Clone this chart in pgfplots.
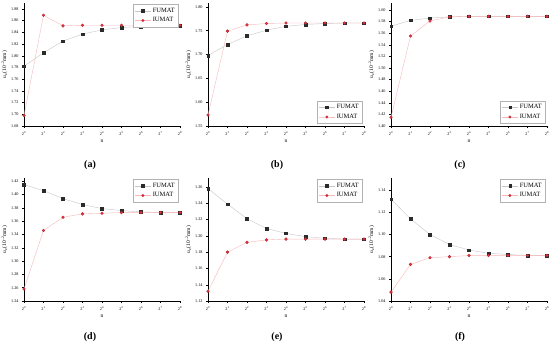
\documentclass[border=0pt]{standalone}
\usepackage{fontspec}
\setmainfont{Liberation Serif}
\usepackage{pgfplots}
\pgfplotsset{compat=1.18}
\definecolor{fblk}{HTML}{2B2B2B}
\definecolor{ired}{HTML}{E8323C}
\pgfplotsset{
  panel/.style={
    scale only axis, width=156pt, height=123pt, anchor=north west,
    axis lines=left, axis line style={-, line width=0.5pt, black},
    xmin=0, xmax=8, xtick={0,...,8},
    xticklabels={2\textsuperscript{0},2\textsuperscript{1},2\textsuperscript{2},2\textsuperscript{3},2\textsuperscript{4},2\textsuperscript{5},2\textsuperscript{6},2\textsuperscript{7},2\textsuperscript{8}},
    tick label style={font=\fontsize{4.2}{4.5}\selectfont},
    /pgf/number format/assume math mode=true,
    yticklabel style={/pgf/number format/fixed, /pgf/number format/fixed zerofill, /pgf/number format/precision=2},
    tick align=outside, major tick length=2pt, tick style={line width=0.4pt, black},
    clip=false,
    xlabel={n}, xlabel style={font=\fontsize{5.5}{5.5}\selectfont, yshift=2pt},
    ylabel={u\textsubscript{z}(10\textsuperscript{–2}mm)}, ylabel style={font=\fontsize{5.5}{5.5}\selectfont, yshift=-3pt},
    legend style={font=\fontsize{6.5}{7}\selectfont, draw=gray!60, line width=0.3pt, inner sep=1.5pt, row sep=0pt, legend cell align=left},
    legend image post style={scale=0.9},
  },
  fum/.style={color=gray!45, line width=0.4pt, mark=square*, mark size=1.3pt, mark options={fill=fblk, draw=fblk}},
  ium/.style={color=ired!35, line width=0.4pt, mark=*, mark size=1.4pt, mark options={fill=ired, draw=ired!80!black}},
  lgtr/.style={legend style={at={(0.99,0.99)}, anchor=north east}},
  lgbr/.style={legend style={at={(0.99,0.02)}, anchor=south east}},
}
\begin{document}
\begin{tikzpicture}
\path[use as bounding box] (0,0) rectangle (550pt,345pt);
% (a)
\begin{axis}[panel, lgtr, at={(24pt,342pt)}, ymin=1.68, ymax=1.89, ytick={1.68,1.70,...,1.885}]
\addplot[fum] coordinates {(0,1.782)(1,1.805)(2,1.825)(3,1.837)(4,1.844)(5,1.848)(6,1.850)(7,1.851)(8,1.851)};
\addplot[ium] coordinates {(0,1.698)(1,1.869)(2,1.851)(3,1.852)(4,1.852)(5,1.852)(6,1.852)(7,1.852)(8,1.852)};
\legend{FUMAT,IUMAT}
\end{axis}
% (b)
\begin{axis}[panel, lgbr, at={(208pt,342pt)}, ymin=1.55, ymax=1.808, ytick={1.55,1.60,...,1.805}]
\addplot[fum] coordinates {(0,1.698)(1,1.721)(2,1.739)(3,1.751)(4,1.759)(5,1.763)(6,1.765)(7,1.766)(8,1.766)};
\addplot[ium] coordinates {(0,1.573)(1,1.749)(2,1.762)(3,1.765)(4,1.766)(5,1.766)(6,1.766)(7,1.766)(8,1.766)};
\legend{FUMAT,IUMAT}
\end{axis}
% (c)
\begin{axis}[panel, lgbr, at={(391pt,342pt)}, ymin=1.40, ymax=1.612, ytick={1.40,1.42,...,1.605}]
\addplot[fum] coordinates {(0,1.572)(1,1.582)(2,1.586)(3,1.588)(4,1.589)(5,1.589)(6,1.589)(7,1.589)(8,1.589)};
\addplot[ium] coordinates {(0,1.415)(1,1.555)(2,1.581)(3,1.588)(4,1.589)(5,1.589)(6,1.589)(7,1.589)(8,1.589)};
\legend{FUMAT,IUMAT}
\end{axis}
% (d)
\begin{axis}[panel, lgtr, at={(24pt,167pt)}, ymin=1.24, ymax=1.425, ytick={1.24,1.26,...,1.425}]
\addplot[fum] coordinates {(0,1.415)(1,1.406)(2,1.394)(3,1.385)(4,1.379)(5,1.376)(6,1.374)(7,1.373)(8,1.373)};
\addplot[ium] coordinates {(0,1.258)(1,1.346)(2,1.366)(3,1.371)(4,1.372)(5,1.373)(6,1.373)(7,1.373)(8,1.373)};
\legend{FUMAT,IUMAT}
\end{axis}
% (e)
\begin{axis}[panel, lgtr, at={(208pt,167pt)}, ymin=1.12, ymax=1.271, ytick={1.12,1.14,...,1.265}]
\addplot[fum] coordinates {(0,1.258)(1,1.239)(2,1.221)(3,1.209)(4,1.203)(5,1.199)(6,1.197)(7,1.196)(8,1.196)};
\addplot[ium] coordinates {(0,1.132)(1,1.180)(2,1.192)(3,1.195)(4,1.196)(5,1.196)(6,1.196)(7,1.196)(8,1.196)};
\legend{FUMAT,IUMAT}
\end{axis}
% (f)
\begin{axis}[panel, lgtr, at={(391pt,167pt)}, ymin=1.04, ymax=1.151, ytick={1.04,1.06,...,1.145}]
\addplot[fum] coordinates {(0,1.132)(1,1.114)(2,1.100)(3,1.091)(4,1.086)(5,1.083)(6,1.082)(7,1.081)(8,1.081)};
\addplot[ium] coordinates {(0,1.048)(1,1.073)(2,1.079)(3,1.080)(4,1.081)(5,1.081)(6,1.081)(7,1.081)(8,1.081)};
\legend{FUMAT,IUMAT}
\end{axis}
\node[font=\bfseries\fontsize{10}{10}\selectfont] at (90pt,180pt) {(a)};
\node[font=\bfseries\fontsize{10}{10}\selectfont] at (277pt,180pt) {(b)};
\node[font=\bfseries\fontsize{10}{10}\selectfont] at (460pt,180pt) {(c)};
\node[font=\bfseries\fontsize{10}{10}\selectfont] at (90pt,8pt) {(d)};
\node[font=\bfseries\fontsize{10}{10}\selectfont] at (277pt,8pt) {(e)};
\node[font=\bfseries\fontsize{10}{10}\selectfont] at (460pt,8pt) {(f)};
\end{tikzpicture}
\end{document}
